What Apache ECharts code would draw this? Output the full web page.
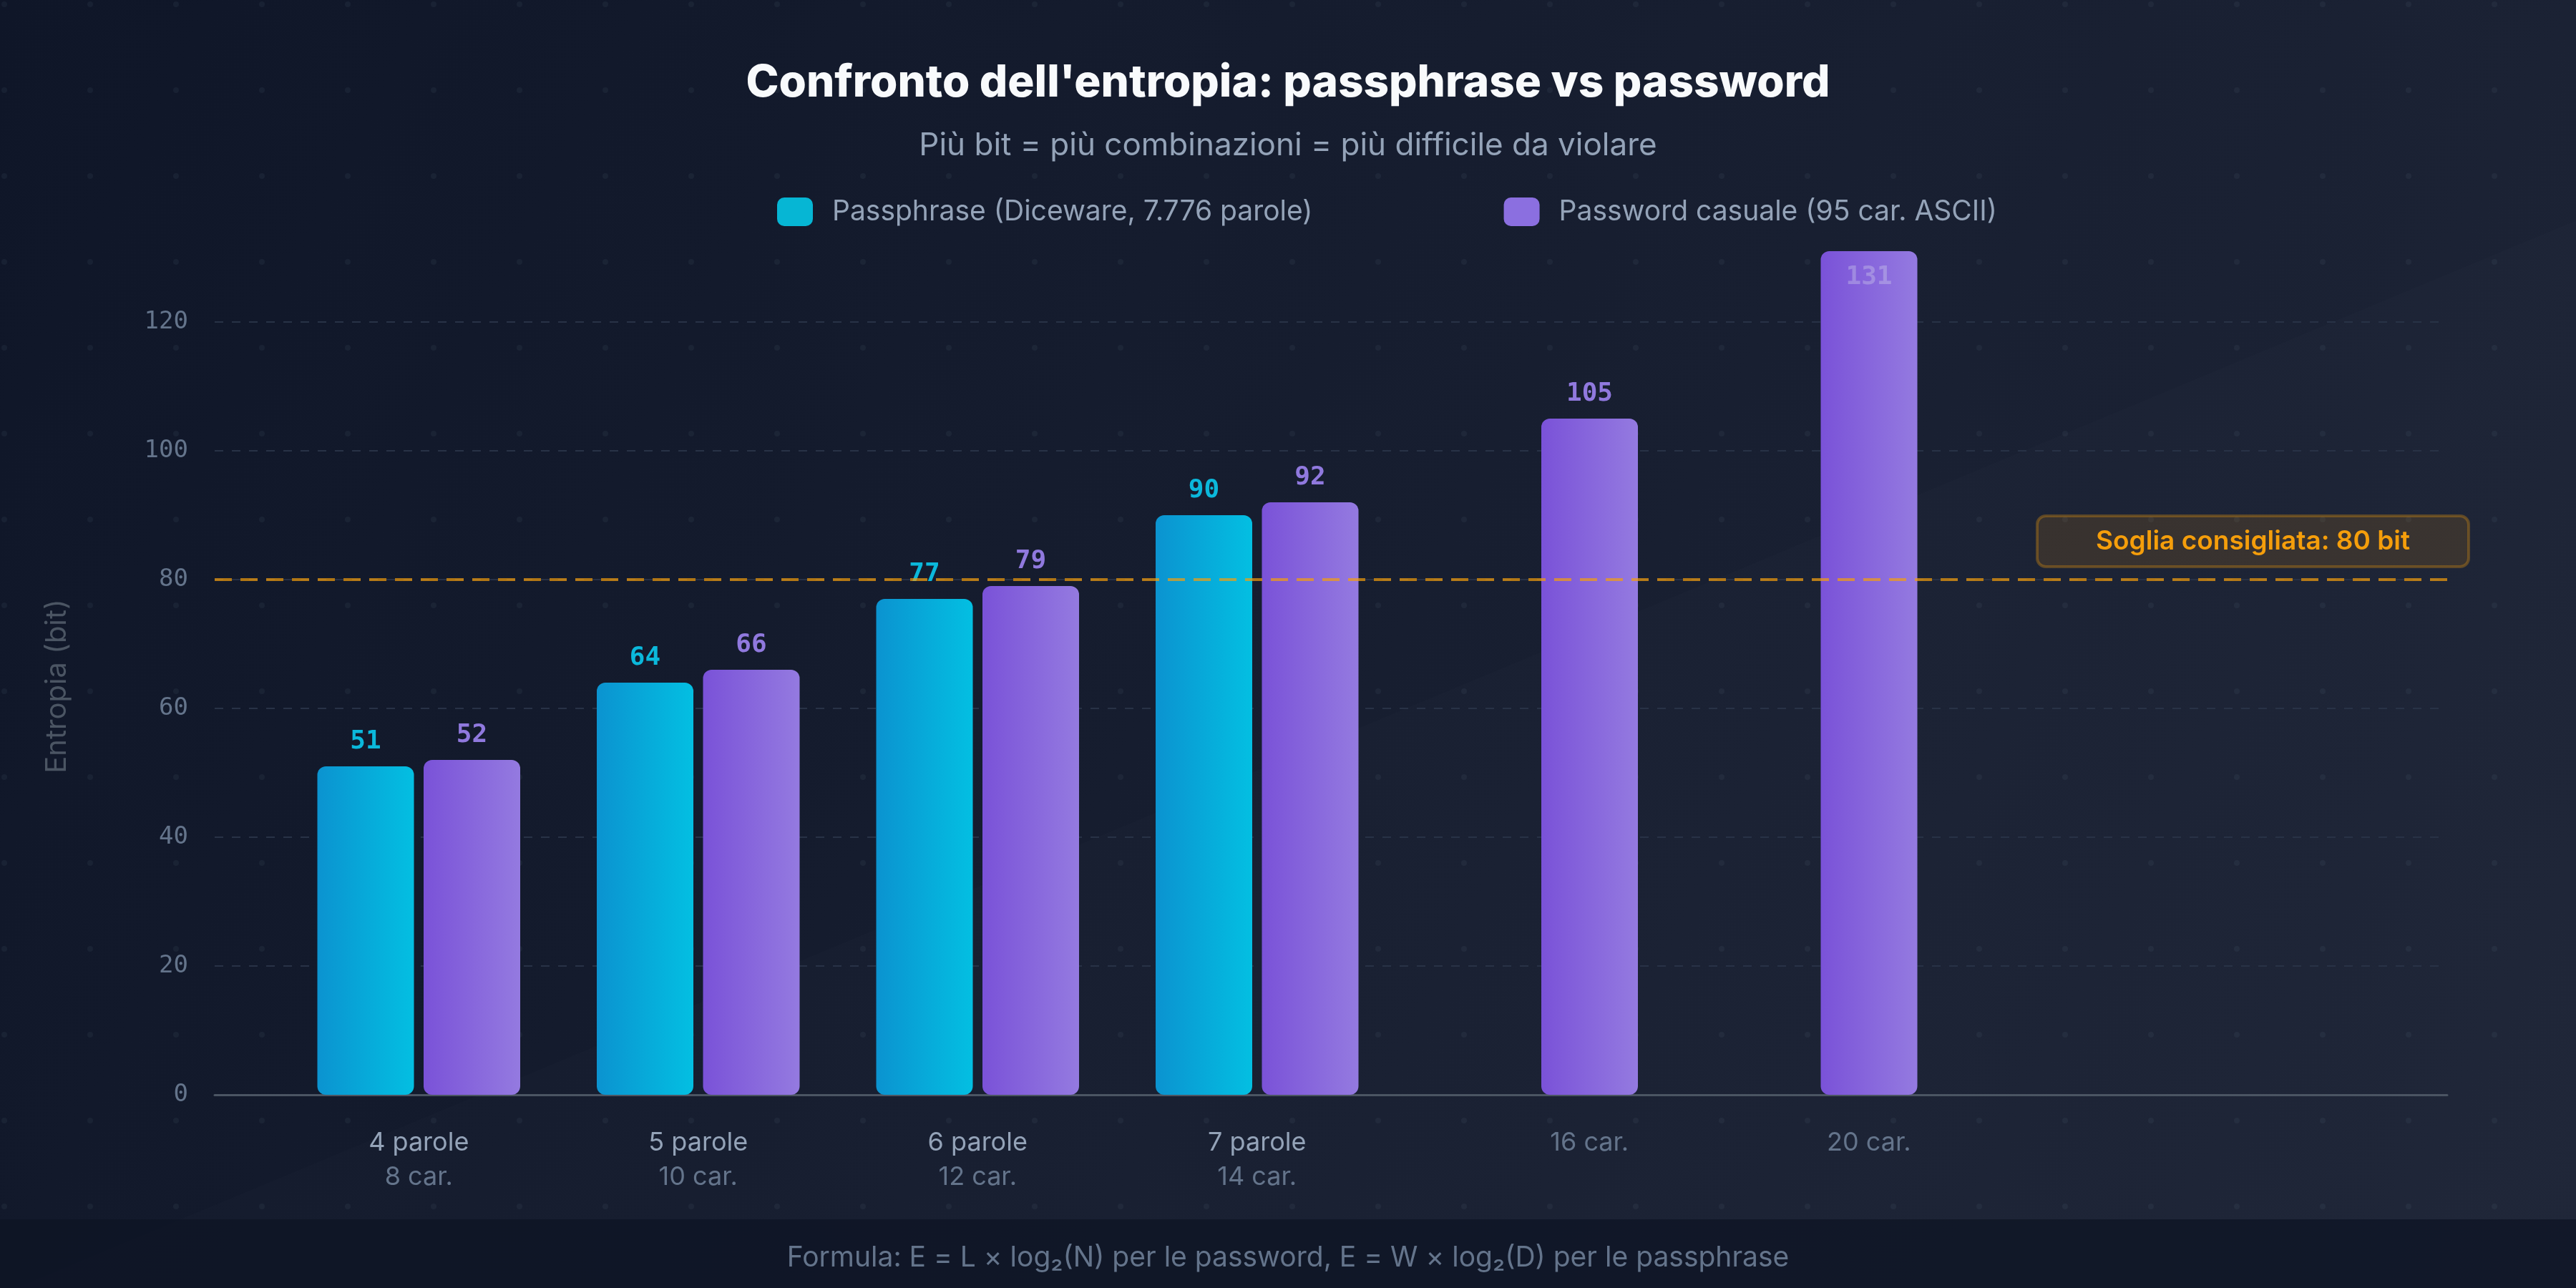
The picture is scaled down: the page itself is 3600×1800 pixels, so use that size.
<!DOCTYPE html>
<html>
<head>
<meta charset="utf-8">
<script src="https://cdn.jsdelivr.net/npm/echarts@6/dist/echarts.min.js"></script>
<style>
html,body{margin:0;padding:0;background:#141b2d;}
#chart{width:3600px;height:1800px;}
</style>
</head>
<body>
<div id="chart"></div>
<script>
// ---- data ----
const categories = ['4 parole', '5 parole', '6 parole', '7 parole', '16 car.', '20 car.'];
const charCounts = ['8 car.', '10 car.', '12 car.', '14 car.', '', ''];
const passphraseBits = [51, 64, 77, 90, null, null];
const passwordBits = [52, 66, 79, 92, 105, 131];
const thresholdBits = 80;
const yMin = 0, yMax = 140, yInterval = 20;
const seriesNames = ['Passphrase (Diceware, 7.776 parole)', 'Password casuale (95 car. ASCII)'];
const titleText = "Confronto dell'entropia: passphrase vs password";
const subtitleText = 'Più bit = più combinazioni = più difficile da violare';
const footerText = 'Formula: E = L × log₂(N) per le password, E = W × log₂(D) per le passphrase';
const thresholdLabel = 'Soglia consigliata: 80 bit';
const yAxisName = 'Entropia (bit)';

// ---- decorative dot pattern ----
const dotCanvas = document.createElement('canvas');
dotCanvas.width = 120; dotCanvas.height = 120;
const dctx = dotCanvas.getContext('2d');
dctx.fillStyle = 'rgba(148,163,184,0.07)';
dctx.beginPath(); dctx.arc(6, 6, 4, 0, Math.PI * 2); dctx.fill();

const chart = echarts.init(document.getElementById('chart'), null, {renderer: 'canvas'});

const cyanGrad = new echarts.graphic.LinearGradient(0, 0, 1, 0, [
  {offset: 0, color: '#0b93d0'}, {offset: 1, color: '#03bfe2'}
]);
const purpleGrad = new echarts.graphic.LinearGradient(0, 0, 1, 0, [
  {offset: 0, color: '#7a52d8'}, {offset: 1, color: '#947ae0'}
]);

const valueLabel = {
  show: true, position: 'top', distance: 16,
  fontFamily: 'DejaVu Sans Mono', fontWeight: 'bold', fontSize: 36
};

const passwordData = passwordBits.map(v => v > yMax - 15 ? {
  value: v,
  label: {position: 'insideTop', distance: 19, color: 'rgba(226,232,240,0.3)'}
} : v);

const fontSans = 'Inter, "Noto Sans", sans-serif';

chart.setOption({
  backgroundColor: {
    type: 'linear', x: 0, y: 0, x2: 1, y2: 1,
    colorStops: [{offset: 0, color: '#0f1628'}, {offset: 1, color: '#1e2537'}]
  },
  animation: false,
  graphic: [
    {type: 'polygon', z: -10, silent: true,
     shape: {points: [[0, 1809], [3600, 308], [3600, 1800], [0, 1800]]},
     style: {fill: 'rgba(255,255,255,0.012)'}},
    {type: 'rect', z: -9, silent: true,
     shape: {x: 0, y: 0, width: 3600, height: 1800},
     style: {fill: {image: dotCanvas, repeat: 'repeat'}}},
    {type: 'rect', z: -8, silent: true,
     shape: {x: 0, y: 1704, width: 3600, height: 96},
     style: {fill: 'rgba(14,20,36,0.75)'}}
  ],
  title: [
    {text: titleText, left: 'center', top: 80,
     textStyle: {fontFamily: fontSans, fontSize: 62, fontWeight: 800, color: '#f8fafc'}},
    {text: subtitleText, left: 'center', top: 177,
     textStyle: {fontFamily: fontSans, fontSize: 44, fontWeight: 'normal', color: '#94a3b8'}},
    {text: footerText, left: 'center', top: 1734,
     textStyle: {fontFamily: fontSans, fontSize: 39, fontWeight: 'normal', color: '#64748b'}}
  ],
  legend: {
    left: 1081, top: 271,
    itemWidth: 50, itemHeight: 40, itemGap: 267,
    icon: 'roundRect',
    textStyle: {fontFamily: fontSans, fontSize: 39, color: '#94a3b8', padding: [0, 0, 0, 22]},
    data: [
      {name: seriesNames[0], itemStyle: {color: '#06b6d4'}},
      {name: seriesNames[1], itemStyle: {color: '#8b6fe0'}}
    ]
  },
  grid: [
    {left: 300, right: 180, top: 270, bottom: 270},
    {left: 390, width: 2343, top: 270, bottom: 270}
  ],
  xAxis: [
    {gridIndex: 0, type: 'value', min: 0, max: 1,
     axisLine: {show: true, lineStyle: {color: '#4b5563', width: 3}},
     axisTick: {show: false}, axisLabel: {show: false}, splitLine: {show: false}},
    {gridIndex: 1, type: 'category', data: categories,
     axisLine: {show: false}, axisTick: {show: false},
     axisLabel: {
       margin: 43,
       formatter: function (value, idx) {
         const sub = charCounts[idx];
         return sub ? '{a|' + value + '}\n{b|' + sub + '}' : '{c|' + value + '}';
       },
       rich: {
         a: {fontFamily: fontSans, fontSize: 36, color: '#94a3b8', lineHeight: 48},
         b: {fontFamily: fontSans, fontSize: 36, color: '#64748b', lineHeight: 48},
         c: {fontFamily: fontSans, fontSize: 36, color: '#64748b', lineHeight: 48, padding: [0, 0, 0, 148]}
       }
     }}
  ],
  yAxis: [
    {gridIndex: 0, type: 'value', min: yMin, max: yMax, interval: yInterval,
     name: yAxisName, nameLocation: 'middle', nameGap: 200, nameRotate: 90,
     nameTextStyle: {fontFamily: fontSans, fontSize: 40, color: '#4b5563', padding: [0, 118, 0, 0]},
     axisLine: {show: false}, axisTick: {show: false},
     axisLabel: {margin: 37, fontFamily: 'DejaVu Sans Mono', fontSize: 34, color: '#64748b',
       formatter: v => v >= yMax ? '' : String(v)},
     splitLine: {show: true, showMaxLine: false, showMinLine: false,
       lineStyle: {color: '#283246', width: 2, type: [12, 12]}}},
    {gridIndex: 1, type: 'value', min: yMin, max: yMax, interval: yInterval, show: false,
     splitLine: {show: false}}
  ],
  series: [
    {name: seriesNames[0], type: 'bar', xAxisIndex: 1, yAxisIndex: 1,
     data: passphraseBits, barWidth: 135, barGap: '10%',
     itemStyle: {color: cyanGrad, borderRadius: 12},
     label: Object.assign({}, valueLabel, {color: '#0bb8db'})},
    {name: seriesNames[1], type: 'bar', xAxisIndex: 1, yAxisIndex: 1,
     data: passwordData, barWidth: 135, barGap: '10%',
     itemStyle: {color: purpleGrad, borderRadius: 12},
     label: Object.assign({}, valueLabel, {color: '#9079de'})},
    {name: 'soglia', type: 'line', xAxisIndex: 0, yAxisIndex: 0, data: [],
     silent: true, symbol: 'none',
     markLine: {
       silent: true, symbol: 'none', animation: false,
       data: [{yAxis: thresholdBits}],
       lineStyle: {color: 'rgba(245,158,11,0.7)', width: 4, type: [24, 12]},
       label: {
         show: true, position: 'insideEndTop', distance: [-30, 18],
         formatter: thresholdLabel,
         fontFamily: fontSans, fontSize: 37, fontWeight: 600, color: '#f59e0b',
         backgroundColor: 'rgba(245,158,11,0.13)',
         borderColor: 'rgba(245,158,11,0.3)', borderWidth: 2, borderRadius: 12,
         padding: [17, 82]
       }
     }}
  ]
});
</script>
</body>
</html>
